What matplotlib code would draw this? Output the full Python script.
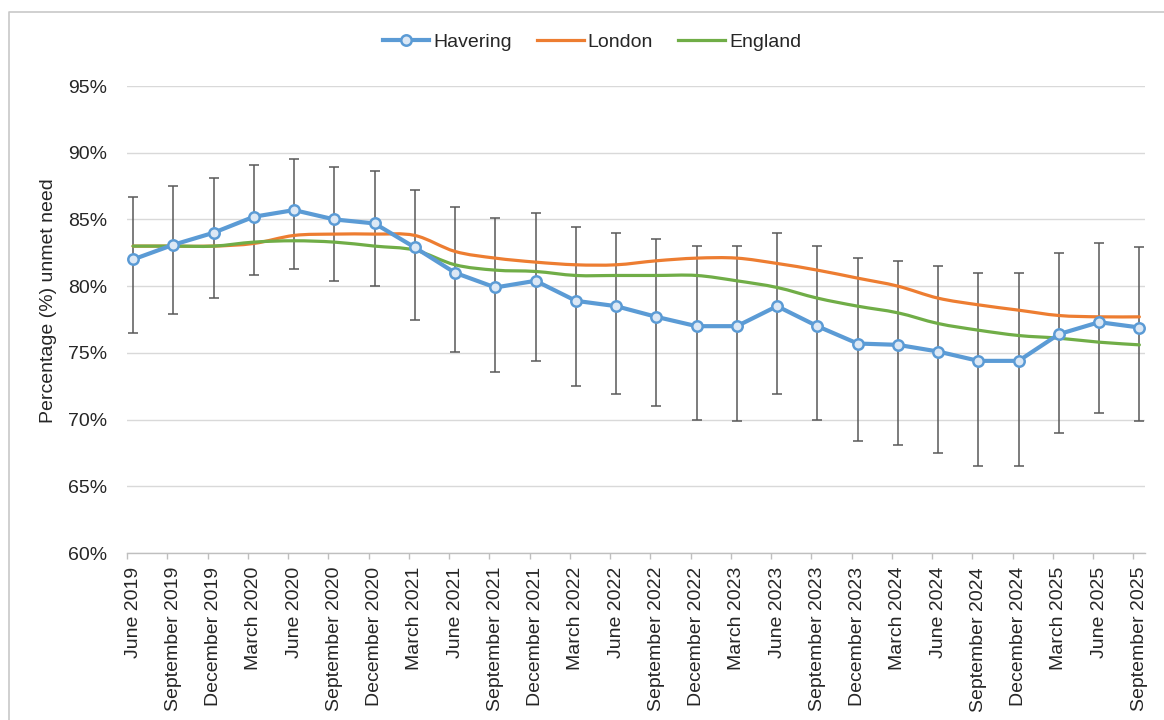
import matplotlib
matplotlib.use("Agg")
import matplotlib.pyplot as plt
from matplotlib.path import Path
from matplotlib.patches import PathPatch
from matplotlib.lines import Line2D
from matplotlib.ticker import FixedLocator, PercentFormatter
import numpy as np

plt.rcParams['font.family'] = ['Liberation Sans', 'DejaVu Sans']

quarters = [
    "June 2019", "September 2019", "December 2019",
    "March 2020", "June 2020", "September 2020", "December 2020",
    "March 2021", "June 2021", "September 2021", "December 2021",
    "March 2022", "June 2022", "September 2022", "December 2022",
    "March 2023", "June 2023", "September 2023", "December 2023",
    "March 2024", "June 2024", "September 2024", "December 2024",
    "March 2025", "June 2025", "September 2025",
]

havering = [82.0, 83.1, 84.0, 85.2, 85.7, 85.0, 84.7, 82.9, 81.0, 79.9,
            80.4, 78.9, 78.5, 77.7, 77.0, 77.0, 78.5, 77.0, 75.7, 75.6,
            75.1, 74.4, 74.4, 76.4, 77.3, 76.9]
havering_upper = [86.7, 87.5, 88.1, 89.1, 89.5, 88.9, 88.6, 87.2, 85.9, 85.1,
                  85.5, 84.4, 84.0, 83.5, 83.0, 83.0, 84.0, 83.0, 82.1, 81.9,
                  81.5, 81.0, 81.0, 82.5, 83.2, 82.9]
havering_lower = [76.5, 77.9, 79.1, 80.8, 81.3, 80.4, 80.0, 77.5, 75.1, 73.6,
                  74.4, 72.5, 71.9, 71.0, 70.0, 69.9, 71.9, 70.0, 68.4, 68.1,
                  67.5, 66.5, 66.5, 69.0, 70.5, 69.9]
london = [83.0, 83.0, 83.0, 83.2, 83.8, 83.9, 83.9, 83.8, 82.6, 82.1,
          81.8, 81.6, 81.6, 81.9, 82.1, 82.1, 81.7, 81.2, 80.6, 80.0,
          79.1, 78.6, 78.2, 77.8, 77.7, 77.7]
england = [83.0, 83.0, 83.0, 83.3, 83.4, 83.3, 83.0, 82.7, 81.6, 81.2,
           81.1, 80.8, 80.8, 80.8, 80.8, 80.4, 79.9, 79.1, 78.5, 78.0,
           77.2, 76.7, 76.3, 76.1, 75.8, 75.6]

BLUE = "#5B9BD5"
ORANGE = "#ED7D31"
GREEN = "#70AD47"
GRID = "#D9D9D9"


def smooth_path(xs, ys):
    """Bezier path through the points (Catmull-Rom style smoothing)."""
    pts = np.column_stack([xs, ys]).astype(float)
    n = len(pts)
    verts = [pts[0]]
    codes = [Path.MOVETO]
    for i in range(n - 1):
        p0 = pts[i - 1] if i > 0 else pts[i]
        p1 = pts[i]
        p2 = pts[i + 1]
        p3 = pts[i + 2] if i + 2 < n else pts[i + 1]
        c1 = p1 + (p2 - p0) / 6.0
        c2 = p2 - (p3 - p1) / 6.0
        verts.extend([c1, c2, p2])
        codes.extend([Path.CURVE4] * 3)
    return Path(verts, codes)


fig = plt.figure(figsize=(11.64, 7.2), dpi=100)
ax = fig.add_axes([127 / 1164, 1 - 553 / 720, 1018 / 1164, 467 / 720])

x = np.arange(len(quarters))
hav = np.array(havering)
err = np.vstack([hav - np.array(havering_lower), np.array(havering_upper) - hav])

ax.errorbar(x, hav, yerr=err, fmt="none", ecolor="#595959",
            elinewidth=1.1, capsize=3.6, capthick=1.1, zorder=2)

for series, colour in ((london, ORANGE), (england, GREEN)):
    ax.add_patch(PathPatch(smooth_path(x, series), facecolor="none",
                           edgecolor=colour, linewidth=2.3,
                           capstyle="round", joinstyle="round", zorder=3))

ax.plot(x, hav, color=BLUE, linewidth=3.0, marker="o", markersize=7.5,
        markerfacecolor="#DCE8F5", markeredgecolor=BLUE,
        markeredgewidth=1.8, solid_joinstyle="round", zorder=4)

ax.set_xlim(-0.15, 25.14)
ax.set_ylim(60, 95)
ax.yaxis.set_major_locator(FixedLocator(np.arange(60, 96, 5)))
ax.yaxis.set_major_formatter(PercentFormatter(decimals=0))
ax.grid(axis="y", color=GRID, linewidth=1.0)
ax.set_axisbelow(True)

ax.set_xticks(x)
ax.set_xticklabels(quarters, rotation=90, fontsize=14)
ax.set_xticks(x - 0.15, minor=True)
ax.tick_params(axis="x", which="major", length=0, pad=10)
ax.tick_params(axis="x", which="minor", length=4.3, color="#BFBFBF", width=1.0)
ax.tick_params(axis="y", length=0, pad=14, labelsize=14, labelcolor="#262626")
ax.tick_params(axis="x", labelcolor="#262626")

for side in ("top", "right", "left"):
    ax.spines[side].set_visible(False)
ax.spines["bottom"].set_color("#BFBFBF")
ax.spines["bottom"].set_linewidth(1.0)

ax.set_ylabel("Percentage (%) unmet need", fontsize=14, color="#262626", va="center")
ax.yaxis.set_label_coords((48.5 - 127) / 1018, (553 - 300.5) / 467)

handles = [
    Line2D([], [], color=BLUE, linewidth=3.0, marker="o", markersize=7.5,
           markerfacecolor="#DCE8F5", markeredgecolor=BLUE, markeredgewidth=1.8),
    Line2D([], [], color=ORANGE, linewidth=2.3),
    Line2D([], [], color=GREEN, linewidth=2.3),
]
fig.legend(handles, ["Havering", "London", "England"], loc="center",
           bbox_to_anchor=(592 / 1164, 1 - 42 / 720), ncol=3, frameon=False,
           fontsize=14, handlelength=2.4, handletextpad=0.2, columnspacing=1.3,
           labelcolor="#262626")

# chart area border (top and left edges)
fig.add_artist(Line2D([8.5 / 1164, 8.5 / 1164, 1.0], [0.0, 1 - 11.5 / 720, 1 - 11.5 / 720],
                      transform=fig.transFigure, color="#C8C8C8", linewidth=1.2))

fig.savefig("out.png", dpi=100)
